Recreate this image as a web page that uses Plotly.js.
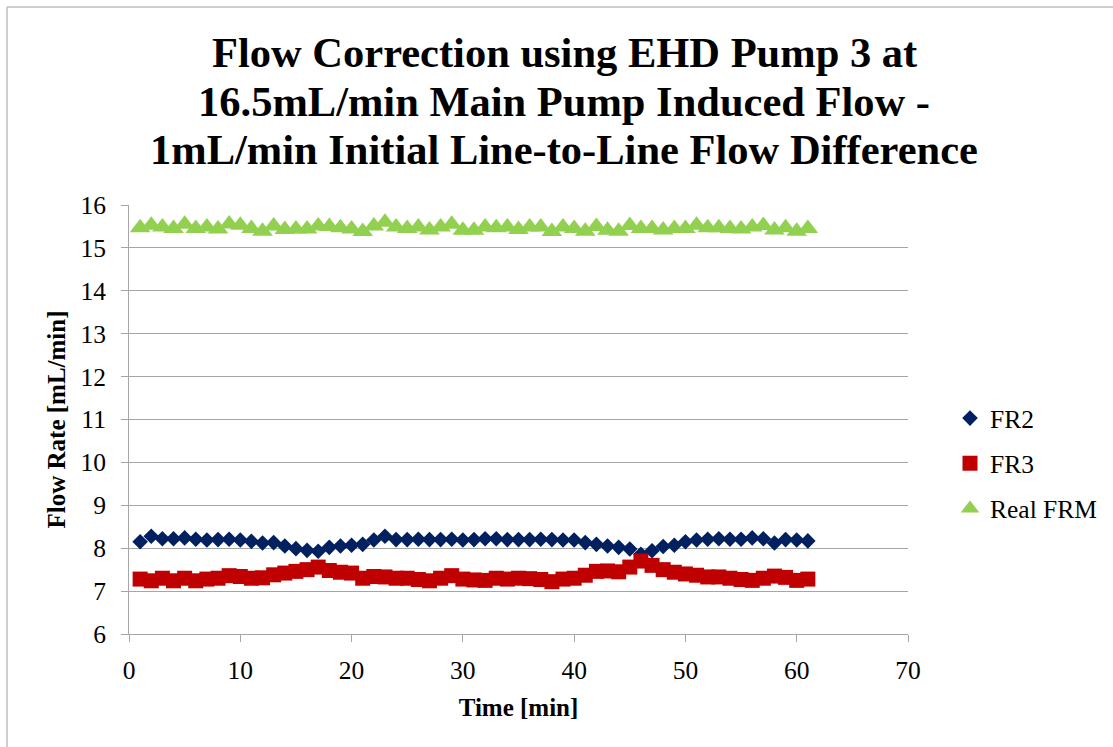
<!DOCTYPE html>
<html>
<head>
<meta charset="utf-8">
<script src="https://cdn.plot.ly/plotly-3.0.1.min.js"></script>
<style>
  html, body { margin: 0; padding: 0; background: #ffffff; }
  #chart { width: 1113px; height: 747px; }
</style>
</head>
<body>
<div id="chart"></div>
<script>
// ---- data ----
const timeMin = [1,2,3,4,5,6,7,8,9,10,11,12,13,14,15,16,17,18,19,20,21,22,23,24,25,26,27,28,29,30,31,32,33,34,35,36,37,38,39,40,41,42,43,44,45,46,47,48,49,50,51,52,53,54,55,56,57,58,59,60,61];

const fr2 = [8.15,8.28,8.22,8.22,8.24,8.21,8.19,8.20,8.21,8.19,8.16,8.12,8.13,8.05,7.99,7.95,7.93,8.02,8.05,8.07,8.09,8.19,8.28,8.20,8.20,8.21,8.20,8.20,8.21,8.19,8.20,8.22,8.22,8.20,8.20,8.20,8.21,8.20,8.19,8.19,8.13,8.09,8.05,8.02,7.98,7.86,7.94,8.04,8.07,8.15,8.19,8.21,8.22,8.21,8.21,8.24,8.22,8.12,8.20,8.19,8.17];

const fr3 = [7.28,7.24,7.30,7.24,7.30,7.24,7.28,7.30,7.36,7.34,7.30,7.31,7.38,7.42,7.46,7.50,7.56,7.48,7.44,7.42,7.30,7.34,7.33,7.30,7.30,7.27,7.24,7.30,7.36,7.28,7.26,7.25,7.30,7.28,7.30,7.29,7.27,7.22,7.28,7.30,7.37,7.46,7.47,7.45,7.56,7.70,7.60,7.50,7.44,7.40,7.37,7.33,7.33,7.30,7.27,7.25,7.30,7.35,7.32,7.25,7.28];

const realFrm = [15.47,15.53,15.49,15.45,15.55,15.45,15.49,15.44,15.56,15.53,15.45,15.39,15.51,15.43,15.44,15.44,15.51,15.50,15.47,15.44,15.38,15.51,15.60,15.49,15.45,15.49,15.42,15.49,15.55,15.41,15.41,15.49,15.47,15.49,15.43,15.49,15.49,15.38,15.49,15.45,15.39,15.50,15.41,15.39,15.52,15.45,15.45,15.42,15.45,15.45,15.53,15.47,15.47,15.45,15.44,15.49,15.52,15.42,15.47,15.39,15.45];

const seriesNames = ["FR2", "FR3", "Real FRM"];
const titleLines = [
  "Flow Correction using EHD Pump 3 at",
  "16.5mL/min Main Pump Induced Flow -",
  "1mL/min Initial Line-to-Line Flow Difference"
];
const xTitle = "Time [min]";
const yTitle = "Flow Rate [mL/min]";

// ---- chart ----
const serif = 'Liberation Serif';
const gray = '#a6a6a6';

const traces = [
  { x: timeMin, y: fr2, name: seriesNames[0], type: 'scatter', mode: 'markers', legendgroup: 'a',
    marker: { symbol: 'diamond', size: 12, color: '#002060' } },
  { x: timeMin, y: fr3, name: seriesNames[1], type: 'scatter', mode: 'markers', legendgroup: 'b',
    marker: { symbol: 'square', size: 15, color: '#C00000' } },
  { x: timeMin, y: realFrm, name: seriesNames[2], type: 'scatter', mode: 'markers', legendgroup: 'c',
    marker: { symbol: 'triangle-up', size: 18, color: '#92D050' } }
];

const plotTop = 205, plotBottom = 634, plotLeft = 129, plotRight = 908;
const py = p => (plotBottom - p) / (plotBottom - plotTop);
const px = p => (p - plotLeft) / (plotRight - plotLeft);

const titleY = [52, 101, 149];
const annotations = titleLines.map((t, i) => ({
  text: '<b>' + t + '</b>', xref: 'paper', yref: 'paper', x: px(564), y: py(titleY[i]),
  xanchor: 'center', yanchor: 'middle', showarrow: false,
  font: { family: serif, size: 42.5, color: '#000000' }
}));

const layout = {
  width: 1113, height: 747,
  margin: { l: plotLeft, r: 1113 - plotRight, t: plotTop, b: 747 - plotBottom, pad: 0, autoexpand: false },
  paper_bgcolor: '#ffffff', plot_bgcolor: '#ffffff',
  font: { family: serif, size: 25, color: '#000000' },
  showlegend: true,
  legend: {
    x: px(950), y: py(395), xanchor: 'left', yanchor: 'top',
    font: { family: serif, size: 25.5, color: '#000000' },
    traceorder: 'grouped', tracegroupgap: 9, bgcolor: 'rgba(0,0,0,0)'
  },
  xaxis: {
    range: [0, 70], dtick: 10, tick0: 0,
    showgrid: false, zeroline: false,
    showline: true, linecolor: gray, linewidth: 1,
    ticks: 'outside', ticklen: 7, tickcolor: gray, tickwidth: 1,
    ticklabelstandoff: 6,
    tickfont: { family: serif, size: 25.5, color: '#000000' },
    title: { text: '<b>' + xTitle + '</b>', font: { family: serif, size: 25, color: '#000000' }, standoff: 14 }
  },
  yaxis: {
    range: [6, 16], dtick: 1, tick0: 6,
    showgrid: true, gridcolor: gray, gridwidth: 1, zeroline: false,
    showline: true, linecolor: gray, linewidth: 1,
    ticks: 'outside', ticklen: 7, tickcolor: gray, tickwidth: 1,
    ticklabelstandoff: 10,
    tickfont: { family: serif, size: 25.5, color: '#000000' },
    title: { text: '<b>' + yTitle + '</b>', font: { family: serif, size: 25, color: '#000000' }, standoff: 7 }
  },
  annotations: annotations,
  shapes: [
    { type: 'line', xref: 'paper', yref: 'paper', x0: px(7), x1: px(1113), y0: py(7), y1: py(7),
      line: { color: '#bfbfbf', width: 1.5 } },
    { type: 'line', xref: 'paper', yref: 'paper', x0: px(7), x1: px(7), y0: py(7), y1: py(747),
      line: { color: '#bfbfbf', width: 1.5 } }
  ]
};

Plotly.newPlot('chart', traces, layout, { staticPlot: true, displayModeBar: false });
</script>
</body>
</html>
